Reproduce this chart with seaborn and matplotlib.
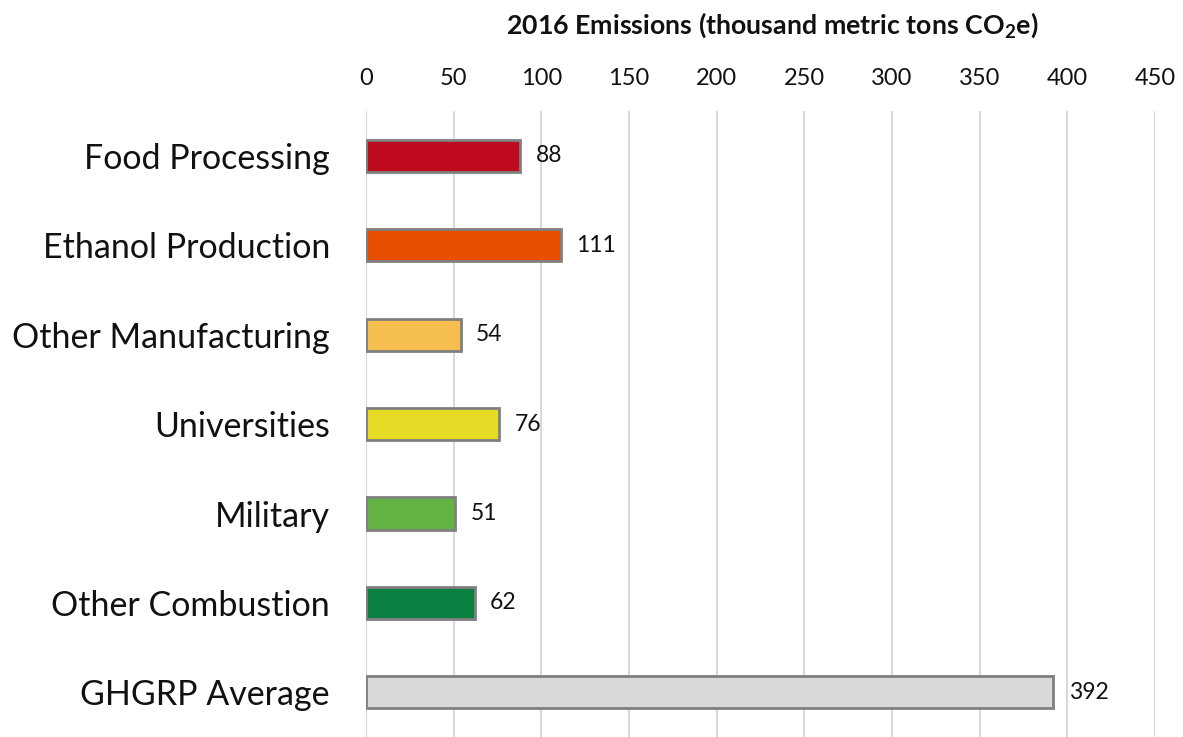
import matplotlib
matplotlib.use("Agg")
import matplotlib.pyplot as plt
import seaborn as sns
import pandas as pd

categories = ["Food Processing", "Ethanol Production", "Other Manufacturing",
              "Universities", "Military", "Other Combustion", "GHGRP Average"]
emissions = [88, 111, 54, 76, 51, 62, 392]
bar_colors = ["#C00A1E", "#E85000", "#F5BE4E", "#E6DC26", "#62B244", "#0A8040", "#D9D9D9"]
x_ticks = [0, 50, 100, 150, 200, 250, 300, 350, 400, 450]

sns.set_theme(style="white")
plt.rcParams["font.family"] = ["Lato", "DejaVu Sans"]
plt.rcParams["mathtext.fontset"] = "custom"
plt.rcParams["mathtext.rm"] = "Lato"
plt.rcParams["mathtext.bf"] = "Lato:bold"

df = pd.DataFrame({"category": categories, "emissions": emissions})

fig = plt.figure(figsize=(11.83, 7.37), dpi=100)
ax = fig.add_axes([0.3094, 0.0, 0.6669, 0.849])

sns.barplot(data=df, x="emissions", y="category", hue="category",
            palette=bar_colors, order=categories, hue_order=categories,
            saturation=1, width=0.36, edgecolor="#808080", linewidth=2,
            legend=False, ax=ax)

for cont in ax.containers:
    ax.bar_label(cont, fmt="%d", padding=11, fontsize=16.5, color="#111111")

ax.set_xlim(0, 450)
ax.set_ylim(6.5, -0.5)
ax.set_xticks(x_ticks)
ax.xaxis.tick_top()
ax.xaxis.set_label_position("top")
ax.tick_params(axis="x", length=0, labelsize=17, pad=16, colors="#111111")
ax.tick_params(axis="y", length=0, labelsize=24.5, pad=26, colors="#111111")
ax.set_xlabel("2016 Emissions (thousand metric tons CO$_\\mathbf{2}$e)",
              fontsize=19.3, fontweight="bold", labelpad=25, color="#111111")
ax.xaxis.label.set_x(0.515)
ax.set_ylabel("")

ax.grid(axis="x", color="#D9D9D9", linewidth=1.5)
ax.set_axisbelow(True)
for s in ax.spines.values():
    s.set_visible(False)

fig.savefig("out.png", dpi=100)
